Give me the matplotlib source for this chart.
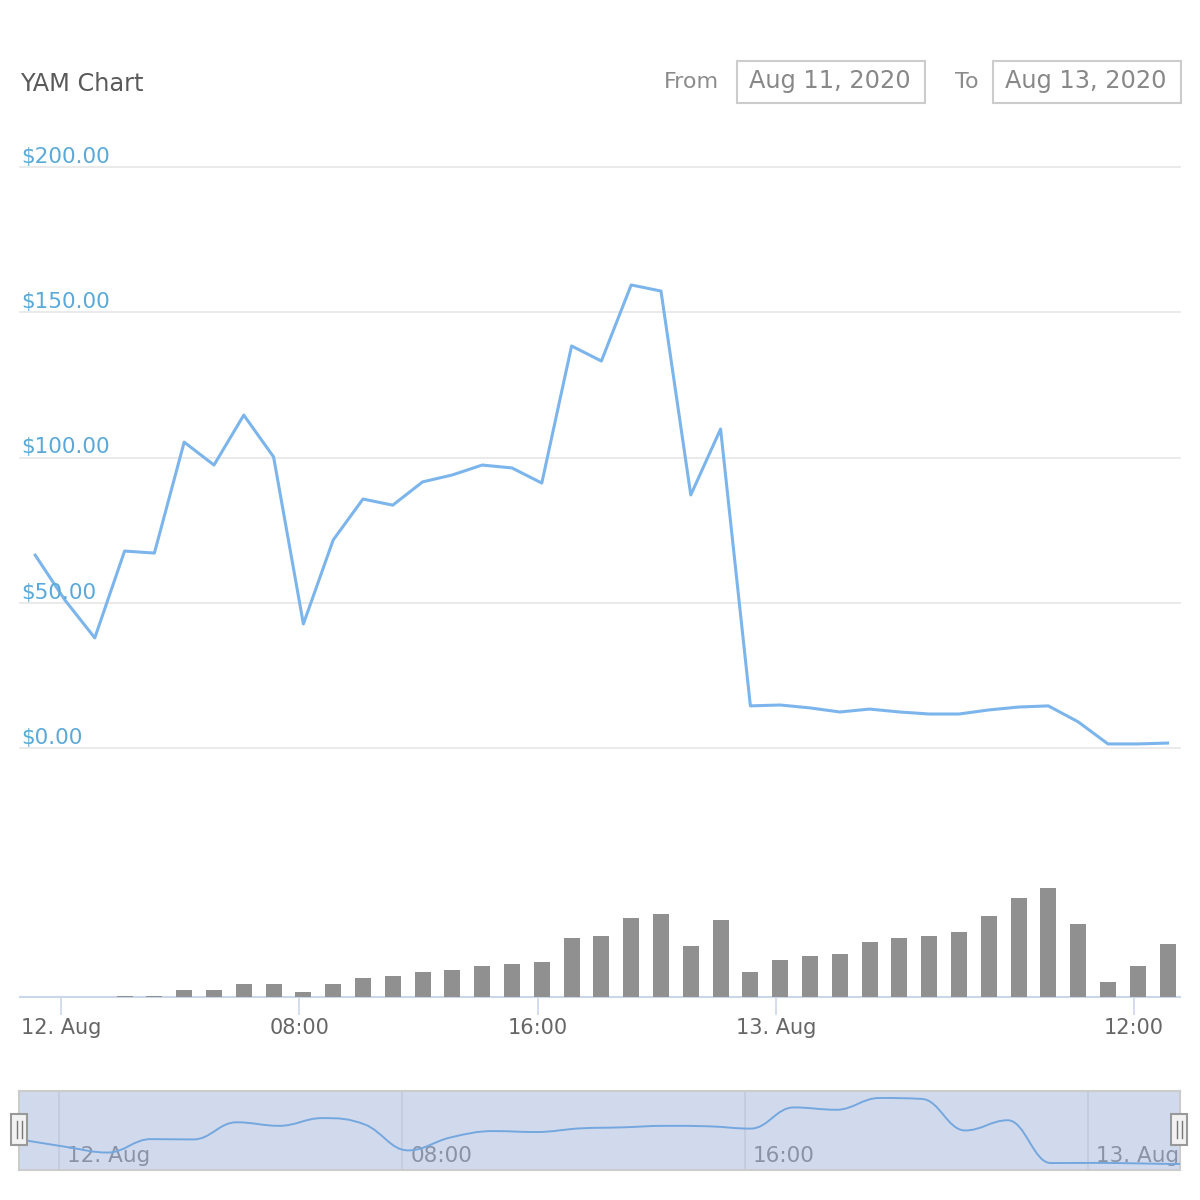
import numpy as np
import pandas as pd
import matplotlib
matplotlib.use('Agg')
import matplotlib.pyplot as plt
import matplotlib.dates as mdates
import matplotlib.transforms as mtrans
from matplotlib.path import Path
from matplotlib.patches import PathPatch, Rectangle
from matplotlib.lines import Line2D

# hourly YAM price (USD) and traded volume (relative units)
times = pd.date_range('2020-08-11 23:08', periods=39, freq='h')
price = [66.4, 50.9, 37.9, 67.8, 67.1, 105.3, 97.4, 114.6, 100.2, 42.7,
         71.6, 85.7, 83.6, 91.6, 94.0, 97.4, 96.4, 91.2, 138.4, 133.2,
         159.4, 157.3, 87.1, 109.8, 14.5, 14.8, 13.8, 12.4, 13.4, 12.4,
         11.7, 11.7, 13.1, 14.1, 14.5, 9.0, 1.4, 1.4, 1.7]
volume = [0, 0, 0, 1, 1, 7, 7, 13, 13, 5, 13, 19, 21, 25, 27, 31, 33, 35, 59, 61,
          79, 83, 51, 77, 25, 37, 41, 43, 55, 59, 61, 65, 81, 99, 109, 73, 15, 31, 53]

y_ticks = [0, 50, 100, 150, 200]
y_labels = ['$0.00', '$50.00', '$100.00', '$150.00', '$200.00']
x_ticks = ['2020-08-12 00:00', '2020-08-12 08:00', '2020-08-12 16:00',
           '2020-08-13 00:00', '2020-08-13 12:00']
x_labels = ['12. Aug', '08:00', '16:00', '13. Aug', '12:00']
nav_ticks = x_ticks[:4]
nav_labels = x_labels[:4]

W = H = 1200
def rect(l, t, r, b):
    return [l / W, 1 - b / H, (r - l) / W, (b - t) / H]

def num(s):
    return mdates.date2num(pd.Timestamp(s).to_pydatetime())

t = mdates.date2num(times.to_pydatetime())
base = num('2020-08-12 00:00')
hr = 1 / 24

plt.rcParams['font.family'] = ['DejaVu Sans']
fig = plt.figure(figsize=(12, 12), dpi=100)
fig.patch.set_facecolor('white')

# header
fig.text(20 / W, 1 - 91 / H, 'YAM Chart', fontsize=17.3, color='#5a5a5a', va='baseline')
fig.text(719 / W, 1 - 88 / H, 'From', fontsize=16, color='#8c8c8c', va='baseline', ha='right')
fig.text(979 / W, 1 - 88 / H, 'To', fontsize=16, color='#8c8c8c', va='baseline', ha='right')
for (l, r, txt) in [(737, 925, 'Aug 11, 2020'), (993, 1181, 'Aug 13, 2020')]:
    fig.patches.append(Rectangle((l / W, 1 - 103 / H), (r - l) / W, 42 / H,
                                 transform=fig.transFigure, fill=False,
                                 edgecolor='#cccccc', lw=1.5))
    fig.text((l + 12) / W, 1 - 88 / H, txt, fontsize=17.3, color='#888888', va='baseline')

# price pane
ax = fig.add_axes(rect(20, 167, 1180, 748))
ax.plot(t, price, color='#7cb5ec', lw=2.2, solid_joinstyle='round')
ax.set_ylim(0, 200)
xl = (base - 1.376 * hr, base + 37.55 * hr)
ax.set_xlim(*xl)
for v, lab in zip(y_ticks, y_labels):
    ax.axhline(v, color='#e6e6e6', lw=1.2, zorder=0, clip_on=False)
    ax.annotate(lab, (0, v), xycoords=ax.get_yaxis_transform(), xytext=(1, 4),
                textcoords='offset pixels', va='baseline', ha='left',
                fontsize=15.5, color='#5ba9d8', annotation_clip=False)
ax.set_axis_off()

# volume pane
vax = fig.add_axes(rect(20, 797, 1180, 997))
vax.bar(t, volume, width=16 / 29.8 * hr, color='#909090', zorder=3)
vax.set_ylim(0, 200)
vax.set_xlim(*xl)
for s in ['top', 'left', 'right']:
    vax.spines[s].set_visible(False)
vax.spines['bottom'].set_color('#ccd6eb')
vax.spines['bottom'].set_linewidth(1.5)
vax.set_yticks([])
vax.set_xticks([num(s) for s in x_ticks])
vax.set_xticklabels(x_labels)
vax.tick_params(axis='x', length=13, width=1.2, color='#ccd6eb', labelsize=15,
                labelcolor='#666666', pad=2)
vax.patch.set_alpha(0)

# navigator
nav = fig.add_axes(rect(19, 1091, 1180, 1170))
nav.set_facecolor('#d1daed')
nav.set_xlim(base - 0.94 * hr, base + 26.15 * hr)
nav.set_ylim(-1, 175)
nav.set_xticks([])
nav.set_yticks([])
for s in nav.spines.values():
    s.set_color('#cccccc')
    s.set_linewidth(1.5)
lab_tr = mtrans.offset_copy(nav.get_xaxis_transform(), fig=fig, x=8, y=0, units='dots')
for s, lab in zip(nav_ticks, nav_labels):
    nav.axvline(num(s), color='#c2cadb', lw=1.2, zorder=1)
    nav.text(num(s), 0.1, lab, transform=lab_tr, fontsize=15.5, color='#8a93a5',
             va='baseline', ha='left', zorder=2)

# spline path like the navigator series
xs = np.asarray(t, dtype=float)
ys = np.asarray(price, dtype=float)
n = len(xs)
sm = 1.5
den = sm + 1
lc = [(xs[0], ys[0])]
rc = []
for i in range(n):
    if i == 0 or i == n - 1:
        rc.append((xs[i], ys[i]))
        if i == n - 1:
            lc.append((xs[i], ys[i]))
        continue
    lx = (sm * xs[i] + xs[i - 1]) / den
    ly = (sm * ys[i] + ys[i - 1]) / den
    rx = (sm * xs[i] + xs[i + 1]) / den
    ry = (sm * ys[i] + ys[i + 1]) / den
    corr = (ry - ly) * (rx - xs[i]) / (rx - lx) + ys[i] - ry
    ly += corr
    ry += corr
    if ly > ys[i - 1] and ly > ys[i]:
        ly = max(ys[i - 1], ys[i]); ry = 2 * ys[i] - ly
    elif ly < ys[i - 1] and ly < ys[i]:
        ly = min(ys[i - 1], ys[i]); ry = 2 * ys[i] - ly
    if ry > ys[i + 1] and ry > ys[i]:
        ry = max(ys[i + 1], ys[i]); ly = 2 * ys[i] - ry
    elif ry < ys[i + 1] and ry < ys[i]:
        ry = min(ys[i + 1], ys[i]); ly = 2 * ys[i] - ry
    lc.append((lx, ly))
    rc.append((rx, ry))
verts = [(xs[0], ys[0])]
codes = [Path.MOVETO]
for i in range(1, n):
    verts += [rc[i - 1], lc[i], (xs[i], ys[i])]
    codes += [Path.CURVE4] * 3
nav.add_patch(PathPatch(Path(verts, codes), fill=False, edgecolor='#75a7df', lw=1.4, zorder=3))

# navigator handles
for cx in [19, 1179]:
    fig.patches.append(Rectangle(((cx - 8) / W, 1 - 1145 / H), 16 / W, 31 / H,
                                 transform=fig.transFigure, facecolor='#f2f2f2',
                                 edgecolor='#999999', lw=1.5, zorder=5))
    for dx in (-2.5, 2.5):
        fig.lines.append(Line2D([(cx + dx) / W] * 2, [1 - 1138 / H, 1 - 1121 / H],
                                transform=fig.transFigure, color='#777777', lw=1, zorder=6))

fig.savefig('out.png', dpi=100)
